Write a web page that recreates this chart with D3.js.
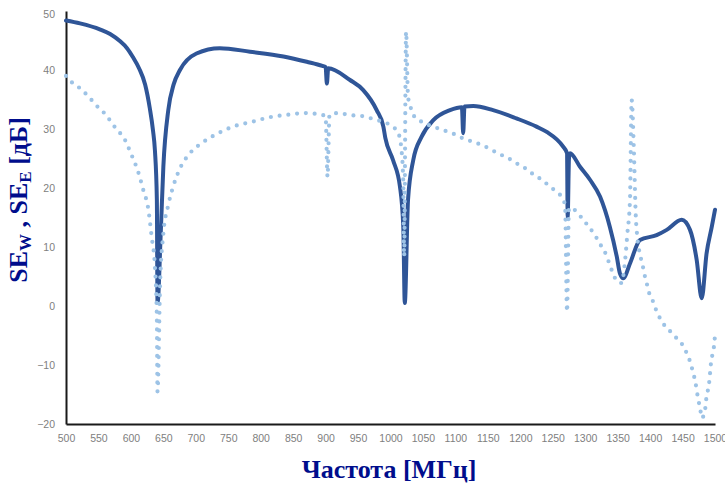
<!DOCTYPE html>
<html><head><meta charset="utf-8">
<script src="https://cdn.jsdelivr.net/npm/d3@7"></script>
<style>body{margin:0;background:#fff}svg{display:block}</style>
</head><body>
<svg id="c" width="725" height="483"></svg>
<script>
const xTicks = d3.range(500, 1501, 50);
const yTicks = [-20, -10, 0, 10, 20, 30, 40, 50];

// SE_W (solid)
const seWFreq = [500,521.6,552,568,583,594,603,612.5,622,629,634,637,640,641,646,650,657.6,666,675.6,701,737,783.5,835,871,895,900,902,904,937.6,958,978.7,989,992,1004,1014.6,1019.7,1022,1027,1035,1048,1066,1091.7,1110,1112,1114,1127.6,1158,1194,1225,1240.7,1266,1272,1273,1275,1276.6,1292,1307.4,1323,1338,1348.6,1353.6,1358.7,1369,1384.4,1410,1425.6,1448.7,1461.5,1471.8,1479.5,1487,1495,1500];
const seWVal  = [48.4,47.9,46.9,46.1,44.9,43.7,42.2,40.3,37.5,33.6,29.8,26.4,18.0,0.5,12.4,23.6,33.2,37.6,40.0,42.8,43.7,43.1,42.3,41.4,40.7,40.5,37.7,40.3,38.3,36.6,33.2,30.4,28.5,24.7,20.2,13.4,0.5,18.0,24.7,28.7,31.5,33.2,33.7,29.3,33.8,33.9,33.2,31.8,30.4,29.5,27.0,25.9,15.1,25.0,25.9,23.6,21.4,18.5,13.4,8.4,5.5,4.7,7.2,11.2,12.0,12.9,14.6,12.9,7.8,1.3,8.9,13.4,16.3];

// SE_E (dotted)
const seEFreq = [500,510,521.6,532,542,551,561.6,570,579,588,601,611,619,627,632,637,640,641,645,650,657.6,665,675.6,691,709,734.7,760,786,814,840,868,894,900,903,906,919.6,935,960.7,976,989,1002,1012,1017,1019.7,1021,1024,1027,1030,1035,1045.5,1058,1071,1084,1097,1112,1127.6,1140.5,1163.6,1176.4,1189,1199.5,1210,1220,1233,1243,1254,1264,1269,1272,1275,1287,1296,1306,1317.7,1325,1333,1338,1343,1349.5,1356,1361,1365,1369,1371.6,1375,1378,1380,1384,1388,1391,1394.7,1398,1404,1409,1423,1433,1442,1450,1456,1461.5,1465.6,1469,1471.8,1474,1477,1479.5,1484.6,1486,1488.7,1491,1493.8,1496.4,1499,1500];
const seEVal  = [39.0,37.8,36.9,35.8,34.6,33.5,32.4,31.1,29.8,28.7,25.6,22.8,19.7,16.3,11.7,6.7,-1.8,-14.5,3.8,12.3,17.1,20.2,23.3,25.9,27.6,29.3,30.5,31.2,32.0,32.4,32.7,32.4,32.2,21.9,32.4,32.7,32.4,32.1,31.6,31.2,30.5,29.3,26.4,20.8,8.4,46.5,35.5,34.1,32.4,31.4,30.7,30.2,29.7,29.2,28.4,27.8,27.3,26.0,25.3,24.6,23.8,23.2,22.3,21.4,20.5,19.5,18.4,17.1,-1.0,16.6,16.0,14.7,13.4,11.5,10.1,8.5,6.9,5.5,4.1,3.9,7.2,12.3,18.0,34.9,26.4,15.1,12.0,8.9,7.2,5.5,3.9,2.4,0.9,-0.6,-3.4,-4.5,-5.6,-6.6,-7.9,-9.4,-11.0,-12.5,-14.2,-15.8,-17.2,-19.0,-17.7,-16.2,-14.5,-13.0,-9.7,-8.0,-6.3,-4.9];

const svg = d3.select('#c');
const x = d3.scaleLinear().domain([500, 1500]).range([66, 715]);
const y = d3.scaleLinear().domain([-20, 50]).range([424, 11]);

const xAxis = svg.append('g').attr('transform', 'translate(0,424)')
  .call(d3.axisBottom(x).tickValues(xTicks).tickSize(0).tickPadding(11).tickFormat(d3.format('d')));
const yAxis = svg.append('g').attr('transform', 'translate(66,0)')
  .call(d3.axisLeft(y).tickValues(yTicks).tickSize(0).tickPadding(11));
[xAxis, yAxis].forEach(g => {
  g.select('.domain').attr('stroke', '#1a1a1a').attr('stroke-width', 2);
  g.selectAll('text').attr('fill', '#808080').style('font-family', '"Liberation Sans", Arial, sans-serif').style('font-size', '10.5px');
});
yAxis.selectAll('.tick').filter(d => d === 50).select('text').attr('dy', '0.62em');

const line = d3.line().curve(d3.curveMonotoneX).x(d => x(d[0])).y(d => y(d[1]));

svg.append('path').datum(seWFreq.map((f, i) => [f, seWVal[i]]))
  .attr('d', line).attr('fill', 'none').attr('stroke', '#2F5597')
  .attr('stroke-width', 4).attr('stroke-linejoin', 'round').attr('stroke-linecap', 'round');

svg.append('path').datum(seEFreq.map((f, i) => [f, seEVal[i]]))
  .attr('d', line).attr('fill', 'none').attr('stroke', '#9DC3E6')
  .attr('stroke-width', 4.2).attr('stroke-dasharray', '0 8.8').attr('stroke-linecap', 'round');

// Axis titles
const serif = '"Liberation Serif", "Times New Roman", serif';
svg.append('text').attr('x', 389).attr('y', 478).attr('text-anchor', 'middle')
  .style('font-family', serif).style('font-weight', 'bold').style('font-size', '26px')
  .attr('fill', '#000d8c').text('Частота [МГц]');

const yl = svg.append('text').attr('transform', 'translate(27,200) rotate(-90)')
  .attr('text-anchor', 'middle')
  .style('font-family', serif).style('font-weight', 'bold').style('font-size', '26px')
  .attr('fill', '#000d8c');
yl.append('tspan').text('SE');
yl.append('tspan').attr('baseline-shift', '-22%').style('font-size', '17px').text('W');
yl.append('tspan').text(' , SE');
yl.append('tspan').attr('baseline-shift', '-22%').style('font-size', '17px').text('E');
yl.append('tspan').text(' [дБ]');
</script>
</body></html>
